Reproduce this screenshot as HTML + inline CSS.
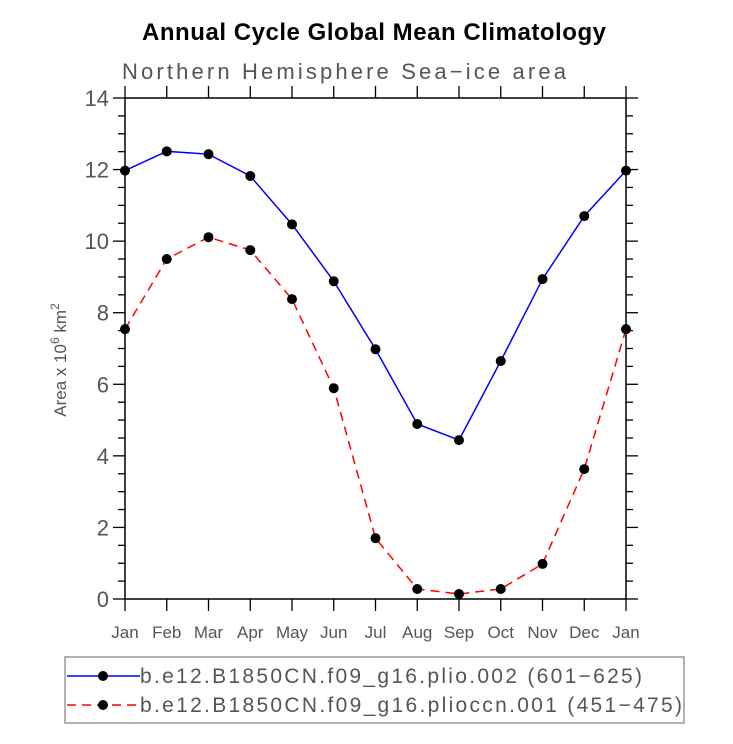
<!DOCTYPE html>
<html><head><meta charset="utf-8"><style>
body{margin:0;background:#fff;}
svg{display:block;font-family:"Liberation Sans",sans-serif;}
</style></head><body>
<svg id="c" width="733" height="744">
<text x="142" y="40" font-weight="bold" font-size="24" textLength="464">Annual Cycle Global Mean Climatology</text>
<text x="122" y="79" font-size="22" fill="#555" textLength="444">Northern Hemisphere Sea−ice area</text>
<text transform="translate(66,360) rotate(-90)" text-anchor="middle" font-size="17" fill="#555">Area x 10<tspan dy="-7" font-size="12">6</tspan><tspan dy="7"> km</tspan><tspan dy="-7" font-size="12">2</tspan></text>
<g id="axes"></g><g id="series"></g>
<rect x="65" y="657" width="619" height="66" fill="none" stroke="#999" stroke-width="1.5"/>
<g>
<line x1="67" y1="676" x2="140" y2="676" stroke="#00f" stroke-width="1.5"/><circle cx="103" cy="676" r="5"/>
<text x="140" y="683" font-size="21" fill="#555" textLength="502">b.e12.B1850CN.f09_g16.plio.002 (601−625)</text></g>
<g>
<line x1="67" y1="705" x2="140" y2="705" stroke="#f00" stroke-width="1.5" stroke-dasharray="9,6"/><circle cx="103" cy="705" r="5"/>
<text x="140" y="712" font-size="21" fill="#555" textLength="542">b.e12.B1850CN.f09_g16.plioccn.001 (451−475)</text></g>
</svg>
<script>
const months=["Jan","Feb","Mar","Apr","May","Jun","Jul","Aug","Sep","Oct","Nov","Dec","Jan"];
const plio=[11.97,12.51,12.43,11.82,10.47,8.88,6.98,4.89,4.44,6.65,8.94,10.70,11.97];
const plioccn=[7.54,9.50,10.11,9.75,8.38,5.89,1.70,0.28,0.14,0.28,0.98,3.63,7.54];
const yTicks=[0,2,4,6,8,10,12,14];
const X0=125,X1=626,Y0=599,Y1=98,YMAX=14;
const xs=i=>X0+i*(X1-X0)/(months.length-1);
const ys=v=>Y0-v*(Y0-Y1)/YMAX;
const NS="http://www.w3.org/2000/svg";
function mk(t,a,p){const e=document.createElementNS(NS,t);for(const k in a)e.setAttribute(k,a[k]);p.appendChild(e);return e;}
const ax=document.getElementById('axes');
const fr=mk('rect',{x:X0,y:Y1,width:X1-X0,height:Y0-Y1,fill:'none',stroke:'#000','stroke-width':1.5},ax);


for(let v=0;v<=YMAX+1e-9;v+=0.5){
  const y=ys(v),maj=Math.abs(v%2)<1e-9,L=maj?12:7;
  mk('line',{x1:X0-L,y1:y,x2:X0,y2:y,stroke:'#000','stroke-width':1.3},ax);
  mk('line',{x1:X1,y1:y,x2:X1+L,y2:y,stroke:'#000','stroke-width':1.3},ax);
}
yTicks.forEach(v=>{const t=mk('text',{x:X0-16,y:ys(v)+8,'text-anchor':'end','font-size':22,fill:'#555'},ax);t.textContent=v;

});
months.forEach((m,i)=>{const x=xs(i);
  mk('line',{x1:x,y1:Y0,x2:x,y2:Y0+12,stroke:'#000','stroke-width':1.3},ax);
  mk('line',{x1:x,y1:Y1-12,x2:x,y2:Y1,stroke:'#000','stroke-width':1.3},ax);
  const t=mk('text',{x:x,y:638,'text-anchor':'middle','font-size':17,fill:'#555'},ax);t.textContent=m;
  
  });
const sg=document.getElementById('series');
function series(d,col,dash,name){
  const pts=d.map((v,i)=>xs(i)+','+ys(v)).join(' ');
  const a={points:pts,fill:'none',stroke:col,'stroke-width':1.5};if(dash)a['stroke-dasharray']=dash;
  const pl=mk('polyline',a,sg);
  
  
  d.forEach((v,i)=>{const c=mk('circle',{cx:xs(i),cy:ys(v),r:5,fill:'#000'},sg);
  
  });
}
series(plio,'#00f',null,'plio');
series(plioccn,'#f00','9,6','plioccn');
</script>
</body></html>
